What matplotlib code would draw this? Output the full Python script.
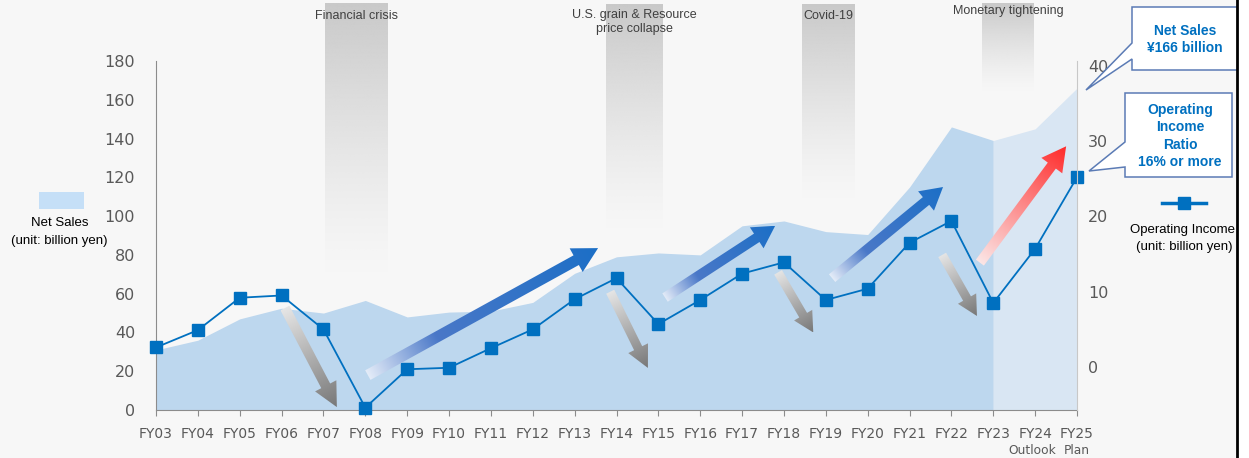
import numpy as np
import matplotlib.pyplot as plt
from matplotlib.patches import Polygon, Rectangle
from matplotlib.colors import to_rgba

W, H = 1249, 458

years = ['FY03', 'FY04', 'FY05', 'FY06', 'FY07', 'FY08', 'FY09', 'FY10', 'FY11',
         'FY12', 'FY13', 'FY14', 'FY15', 'FY16', 'FY17', 'FY18', 'FY19', 'FY20',
         'FY21', 'FY22', 'FY23', 'FY24', 'FY25']
# net sales (billion yen, left axis)
net_sales = [31, 36, 47, 52.5, 50, 56.5, 48, 50.5, 51, 55.5, 70.5, 79, 81, 80,
             95, 97.5, 92, 90.5, 115, 146, 139, 145, 166]
# operating income (billion yen, right axis)
op_income = [2.6, 4.9, 9.2, 9.5, 5.0, -5.4, -0.3, -0.1, 2.5, 5.0, 9.0, 11.8, 5.7,
             8.9, 12.4, 13.9, 8.9, 10.4, 16.5, 19.4, 8.5, 15.7, 25.2]
left_ticks = [0, 20, 40, 60, 80, 100, 120, 140, 160, 180]
right_ticks = [0, 10, 20, 30, 40]

events = ['Financial crisis', 'U.S. grain & Resource\nprice collapse', 'Covid-19',
          'Monetary tightening']

BG = '#f7f7f7'
TXT = '#595959'

plt.rcParams['font.family'] = ['DejaVu Sans']

fig = plt.figure(figsize=(W / 100, H / 100), dpi=100, facecolor=BG)

bg = fig.add_axes([0, 0, 1, 1], zorder=0)
bg.set_xlim(0, W); bg.set_ylim(0, H); bg.axis('off')

ax = fig.add_axes([156 / W, 48 / H, 921 / W, 349 / H], zorder=1)
ax.patch.set_visible(False)
x = np.arange(len(years))
ax.set_xlim(0, len(years) - 1)
ax.set_ylim(0, 180)

ax2 = ax.twinx()
ax2.set_zorder(2)
ax2.set_ylim(-5.71, 40.64)

fg = fig.add_axes([0, 0, 1, 1], zorder=3)
fg.set_xlim(0, W); fg.set_ylim(0, H); fg.axis('off')
fg.patch.set_visible(False)

# area: results and outlook/plan part
ax.fill_between(x[:21], net_sales[:21], color='#bdd7ee', lw=0)
ax.fill_between(x[20:], net_sales[20:], color='#d9e6f3', lw=0)

ax2.plot(x, op_income, color='#0070c0', lw=1.3, marker='s', ms=8.5,
         mfc='#0070c0', mec='#0070c0', clip_on=False)

ax.spines['top'].set_visible(False)
ax2.spines['top'].set_visible(False)
ax.spines['right'].set_visible(False)
ax2.spines['left'].set_visible(False)
ax2.spines['bottom'].set_visible(False)
ax.spines['left'].set_color('#8c8c8c')
ax.spines['bottom'].set_color('#8c8c8c')
ax2.spines['right'].set_color('#c8c8c8')

ax.set_xticks(x)
ax.set_xticklabels(years, fontsize=10, color=TXT)
ax.tick_params(axis='x', length=4, color='#8c8c8c', pad=8)
ax.set_yticks(left_ticks)
ax.set_yticklabels([str(t) for t in left_ticks], fontsize=11.5, color=TXT)
ax.tick_params(axis='y', length=0, pad=15)
ax2.set_yticks(right_ticks)
ax2.set_yticklabels([str(t) for t in right_ticks], fontsize=11.5, color=TXT)
ax2.tick_params(axis='y', length=0, pad=8)

ax.text(20.92, -0.115, 'Outlook', transform=ax.get_xaxis_transform(), ha='center',
        va='center', fontsize=8.8, color=TXT)
ax.text(22.0, -0.115, 'Plan', transform=ax.get_xaxis_transform(), ha='center',
        va='center', fontsize=8.8, color=TXT)


def to_px(p):
    return np.array(ax.transData.transform(p))


# gray event bands fading downward
bands = [(4.04, 5.54, 69), (10.75, 12.11, 92), (15.43, 16.68, 108), (19.73, 20.97, 164)]
for (a, b, low), lab in zip(bands, events):
    xa, y_low = to_px((a, low))
    xb = to_px((b, 0))[0]
    y_top = H - 4
    t = np.linspace(0, 1, 200)[:, None]
    img = np.zeros((200, 2, 4))
    img[..., :3] = to_rgba('#c9c9c9')[:3]
    img[..., 3] = np.repeat(t ** 1.3, 2, axis=1)
    bg.imshow(img, extent=(xa, xb, y_low, y_top), origin='lower', aspect='auto',
              interpolation='bilinear')
    bg.text((xa + xb) / 2, H - 16 if '\n' not in lab else H - 22, lab,
            ha='center', va='center', fontsize=9, color='#404040',
            family=['Liberation Sans'], linespacing=1.25)
bg.texts[-1].set_position((bg.texts[-1].get_position()[0], H - 11))
bg.set_xlim(0, W); bg.set_ylim(0, H)


def grad_arrow(p0, p1, stops, w=10, hw=26, hl=24):
    p0 = to_px(p0); p1 = to_px(p1)
    d = p1 - p0
    L = np.hypot(*d)
    u = d / L
    n = np.array([-u[1], u[0]])
    b = p1 - u * hl
    pts = [p0 + n * w / 2, b + n * w / 2, b + n * hw / 2, p1, b - n * hw / 2,
           b - n * w / 2, p0 - n * w / 2]
    poly = Polygon(pts, closed=True, fc='none', ec='none')
    fg.add_patch(poly)
    xs = [q[0] for q in pts]; ys = [q[1] for q in pts]
    x0, x1, y0, y1 = min(xs), max(xs), min(ys), max(ys)
    gx, gy = np.meshgrid(np.linspace(x0, x1, 300), np.linspace(y0, y1, 300))
    t = np.clip(((gx - p0[0]) * u[0] + (gy - p0[1]) * u[1]) / L, 0, 1)
    pos = [s[0] for s in stops]
    cols = np.array([to_rgba(s[1]) for s in stops])
    img = np.stack([np.interp(t, pos, cols[:, k]) for k in range(4)], axis=-1)
    im = fg.imshow(img, extent=(x0, x1, y0, y1), origin='lower', aspect='auto',
                   interpolation='bilinear')
    im.set_clip_path(poly)


blue = [(0, '#e4ecf8'), (0.3, '#4a78c8'), (1, '#1c6fc6')]
gray = [(0, '#e6e6e6'), (1, '#777777')]
red = [(0, '#fbe6e6'), (1, '#ff2a2a')]

grad_arrow((5.06, 18), (10.56, 83.5), blue, w=11, hw=27, hl=25)
grad_arrow((12.16, 58), (14.79, 95), blue, w=10, hw=25, hl=22)
grad_arrow((16.15, 68), (18.8, 115), blue, w=10, hw=25, hl=22)
grad_arrow((3.08, 52.6), (4.32, 1.5), gray, w=10, hw=24, hl=24)
grad_arrow((10.85, 61), (11.75, 21.7), gray, w=9, hw=22, hl=22)
grad_arrow((14.86, 71), (15.7, 40), gray, w=9, hw=21, hl=20)
grad_arrow((18.78, 80), (19.61, 48.5), gray, w=9, hw=21, hl=20)
grad_arrow((19.68, 76), (21.74, 136), red, w=10, hw=26, hl=24)

# left legend (net sales)
fg.add_patch(Rectangle((39, H - 209), 45, 17, fc='#c5dff7', ec='none'))
fg.text(60, H - 223, 'Net Sales', ha='center', va='center', fontsize=9.5,
        color='black', family=['Liberation Sans'])
fg.text(59, H - 241, '(unit: billion yen)', ha='center', va='center', fontsize=9.5,
        color='black', family=['Liberation Sans'])

# right legend (operating income)
fg.plot([1162, 1206], [H - 203, H - 203], color='#0070c0', lw=2.5)
fg.plot([1184], [H - 203], marker='s', ms=9, color='#0070c0')
fg.text(1183, H - 230, 'Operating Income', ha='center', va='center', fontsize=9.5,
        color='black', family=['Liberation Sans'])
fg.text(1184, H - 247, '(unit: billion yen)', ha='center', va='center', fontsize=9.5,
        color='black', family=['Liberation Sans'])

# callouts
c1 = [(1132, 7), (1240, 7), (1240, 70), (1132, 70), (1132, 59), (1086, 90),
      (1132, 43)]
c2 = [(1125, 93), (1232, 93), (1232, 177), (1125, 177), (1125, 167), (1089, 171),
      (1125, 142)]
for c in (c1, c2):
    fg.add_patch(Polygon([(a, H - b) for a, b in c], closed=True, fc='white',
                         ec='#5b7bb5', lw=1.1))
fg.text(1185, H - 31, 'Net Sales', ha='center', va='center', fontsize=10,
        fontweight='bold', color='#0070c0', family=['Liberation Sans'])
fg.text(1185, H - 48, f'¥{net_sales[-1]} billion', ha='center', va='center',
        fontsize=10, fontweight='bold', color='#0070c0', family=['Liberation Sans'])
for i, s in enumerate(['Operating', 'Income', 'Ratio', '16% or more']):
    fg.text(1180, H - 110 - 17.3 * i, s, ha='center', va='center', fontsize=10,
            fontweight='bold', color='#0070c0', family=['Liberation Sans'])

# right border of the slide crop
fg.add_patch(Rectangle((1238, 0), W - 1238, H, fc='white', ec='none', zorder=10))
fg.plot([1237.5, 1237.5], [0, H], color='black', lw=2, zorder=11)

fg.set_xlim(0, W); fg.set_ylim(0, H)

fig.savefig('out.png', dpi=100, facecolor=BG)
